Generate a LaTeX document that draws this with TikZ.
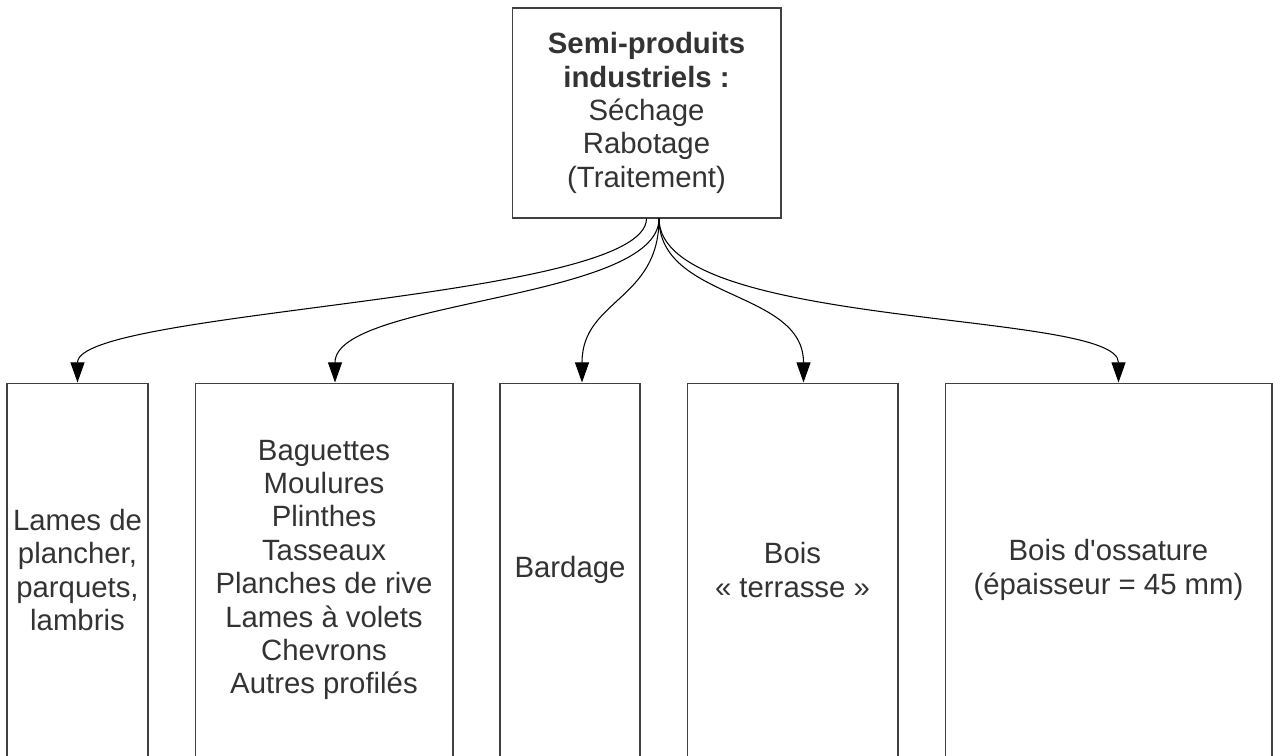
\documentclass[tikz,border=0pt]{standalone}
\usepackage{fontspec}
\setmainfont{Liberation Sans}[Ligatures=TeXOff]
\usetikzlibrary{calc,arrows.meta}

\begin{document}
\begin{tikzpicture}[x=0.02cm,y=-0.02cm,
        box/.style={draw=black!75,line width=0.6pt,inner sep=0pt,align=center,text=black!80,
            font=\fontsize{16.7}{19}\selectfont},
        feed/.style={line width=0.6pt,-{Triangle[length=11.5pt,width=8pt]}}]
        \useasboundingbox (0,0) rectangle (1273,756);
        \node[box,minimum width=5.38cm,minimum height=4.2cm] (top) at (646.5,113)
            {\textbf{Semi-produits}\\\textbf{industriels :}\\Séchage\\Rabotage\\(Traitement)};
        \node[box,minimum width=2.82cm,minimum height=7.48cm] (lames) at (77.5,570)
            {Lames de\\plancher,\\parquets,\\lambris};
        \node[box,minimum width=5.16cm,minimum height=7.48cm] (profils) at (324,570)
            {Baguettes\\Moulures\\Plinthes\\Tasseaux\\Planches de rive\\Lames à volets\\Chevrons\\Autres profilés};
        \node[box,minimum width=2.8cm,minimum height=7.48cm] (bardage) at (570,570) {Bardage};
        \node[box,minimum width=4.22cm,minimum height=7.48cm] (terrasse) at (792.5,570)
            {Bois\\« terrasse »};
        \node[box,minimum width=6.54cm,minimum height=7.48cm] (ossature) at (1108.5,570)
            {Bois d'ossature\\(épaisseur = 45 mm)};
        \coordinate (fork) at ($(top.south)+(12.5,0)$);
        \draw[feed] (top.south) .. controls +(0,82) and +(0,-73) .. (lames.north);
        \draw[feed] (fork) .. controls +(0,82) and +(0,-83) .. ($(profils.north)+(11,0)$);
        \draw[feed] (fork) .. controls +(0,82) and +(0,-83) .. ($(bardage.north)+(12,0)$);
        \draw[feed] (fork) .. controls +(0,82) and +(0,-93) .. ($(terrasse.north)+(11,0)$);
        \draw[feed] (fork) .. controls +(0,112) and +(0,-73) .. ($(ossature.north)+(10,0)$);
    \end{tikzpicture}
\end{document}
